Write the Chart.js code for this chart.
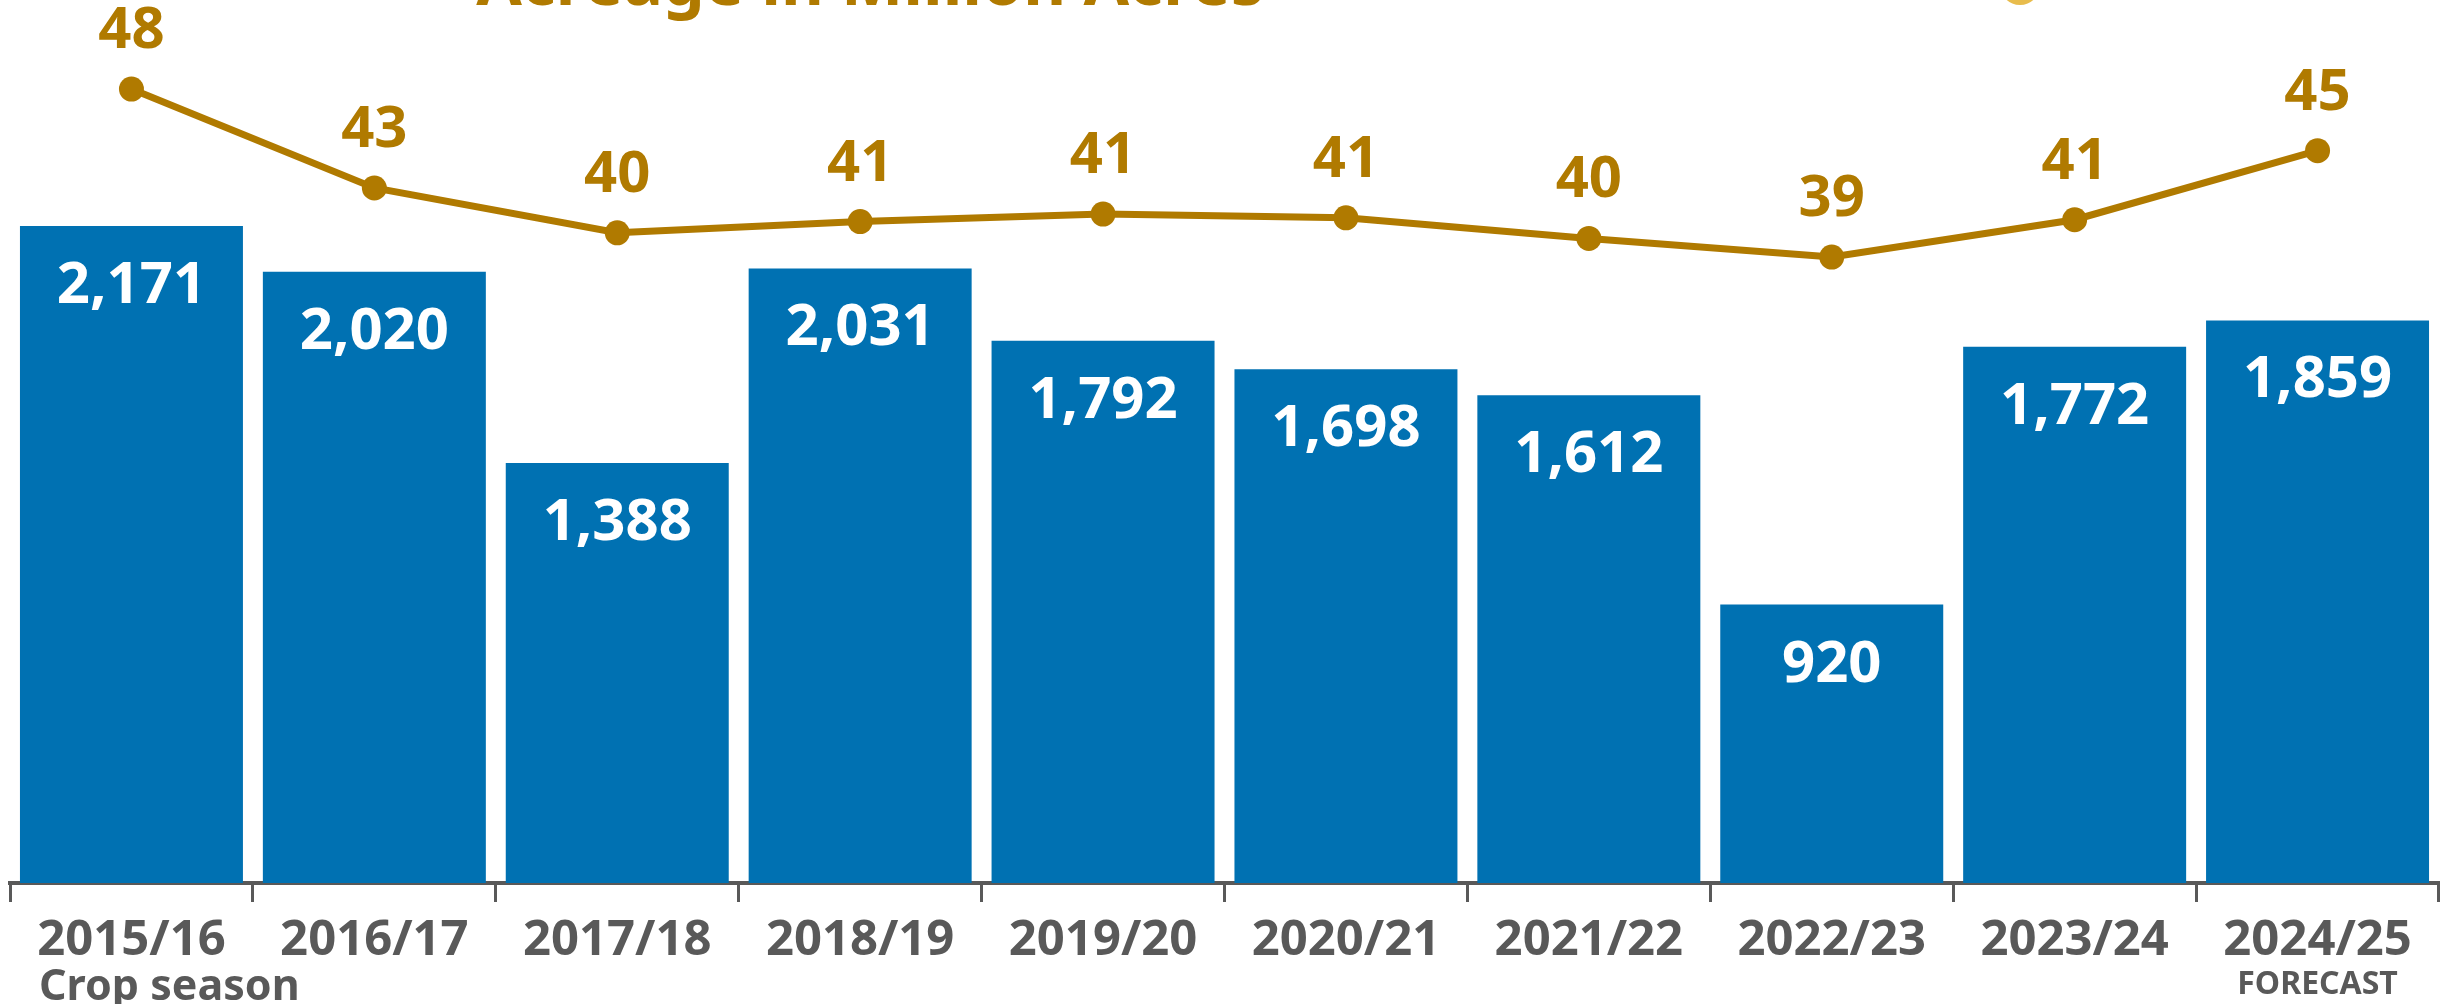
<!DOCTYPE html>
<html>
<head>
<meta charset="utf-8">
<script src="https://cdn.jsdelivr.net/npm/chart.js@4.4.1/dist/chart.umd.min.js"></script>
<style>
  html, body { margin: 0; padding: 0; background: #ffffff; overflow: hidden; }
  #wrap { width: 2446px; height: 1004px; position: relative; }
</style>
</head>
<body>
<div id="wrap"><canvas id="c" width="2446" height="1004"></canvas></div>
<script>
// ---- data ----
const seasons = ['2015/16', '2016/17', '2017/18', '2018/19', '2019/20', '2020/21', '2021/22', '2022/23', '2023/24', '2024/25'];
const production = [2171, 2020, 1388, 2031, 1792, 1698, 1612, 920, 1772, 1859];
const acreage = [48.0, 42.7, 40.3, 40.9, 41.3, 41.1, 40.0, 39.0, 41.0, 44.7];
const titleText = 'Acreage in Million Acres';
const axisTitle = 'Crop season';
const forecastNote = 'FORECAST';

// ---- styles ----
const BLUE = '#0071B2';
const GOLD = '#B07A00';
const GRAY = '#595959';
const FONT = '"Noto Sans", "DejaVu Sans", sans-serif';

const fmt = v => v.toLocaleString('en-US');

const textPlugin = {
  id: 'textPlugin',
  afterDatasetsDraw(chart) {
    const ctx = chart.ctx;
    const barMeta = chart.getDatasetMeta(0);
    const lineMeta = chart.getDatasetMeta(1);
    ctx.save();
    ctx.textAlign = 'center';
    ctx.textBaseline = 'alphabetic';
    ctx.font = 'bold 58px ' + FONT;
    ctx.fillStyle = '#ffffff';
    barMeta.data.forEach((el, i) => {
      ctx.fillText(fmt(production[i]), el.x, el.y + 77);
    });
    ctx.fillStyle = GOLD;
    lineMeta.data.forEach((el, i) => {
      ctx.fillText(String(Math.round(acreage[i])), el.x, el.y - 41);
    });
    ctx.restore();
  },
  afterDraw(chart) {
    const ctx = chart.ctx;
    const xs = chart.scales.x;
    ctx.save();
    // category labels
    ctx.textAlign = 'center';
    ctx.textBaseline = 'alphabetic';
    ctx.fillStyle = GRAY;
    ctx.font = 'bold 49px ' + FONT;
    seasons.forEach((s, i) => {
      ctx.fillText(s, xs.getPixelForValue(i), 955);
    });
    // forecast note
    ctx.font = 'bold 32px ' + FONT;
    ctx.fillText(forecastNote, xs.getPixelForValue(seasons.length - 1), 994);
    // axis title
    ctx.textAlign = 'left';
    ctx.font = 'bold 43px ' + FONT;
    ctx.fillText(axisTitle, 39, 1000);
    // cut-off title
    ctx.textAlign = 'center';
    ctx.fillStyle = GOLD;
    ctx.font = 'bold 66px ' + FONT;
    ctx.fillText(titleText, 870, 5);
    // cut-off legend markers
    ctx.fillStyle = '#E8BC4C';
    ctx.beginPath(); ctx.arc(2020, -15, 20, 0, Math.PI * 2); ctx.fill();
    ctx.fillStyle = '#F1D88E';
    ctx.beginPath(); ctx.arc(2107, -18, 18, 0, Math.PI * 2); ctx.fill();
    ctx.restore();
  }
};

new Chart(document.getElementById('c'), {
  type: 'bar',
  data: {
    labels: seasons,
    datasets: [
      {
        type: 'bar',
        label: 'Production',
        data: production,
        backgroundColor: BLUE,
        borderWidth: 0,
        barPercentage: 1.0,
        categoryPercentage: 0.918,
        yAxisID: 'y',
        order: 2
      },
      {
        type: 'line',
        label: 'Acreage',
        data: acreage,
        borderColor: GOLD,
        backgroundColor: GOLD,
        borderWidth: 7,
        pointRadius: 12.5,
        pointBackgroundColor: GOLD,
        pointBorderWidth: 0,
        tension: 0,
        clip: false,
        yAxisID: 'y2',
        order: 1
      }
    ]
  },
  options: {
    responsive: false,
    devicePixelRatio: 1,
    animation: false,
    layout: { autoPadding: false, padding: { left: 10, right: 7, top: 0, bottom: 0 } },
    plugins: { legend: { display: false }, tooltip: { enabled: false }, title: { display: false } },
    scales: {
      x: {
        type: 'category',
        offset: true,
        grid: {
          display: true,
          offset: true,
          drawOnChartArea: false,
          drawTicks: true,
          tickLength: 19,
          tickWidth: 3,
          tickColor: GRAY
        },
        border: { display: true, color: GRAY, width: 4 },
        ticks: { display: false },
        afterFit(scale) { scale.height = 121; }
      },
      y: { display: false, min: 0, max: 2918 },
      y2: { display: false, min: 5.47, max: 52.77 }
    }
  },
  plugins: [textPlugin]
});
</script>
</body>
</html>
